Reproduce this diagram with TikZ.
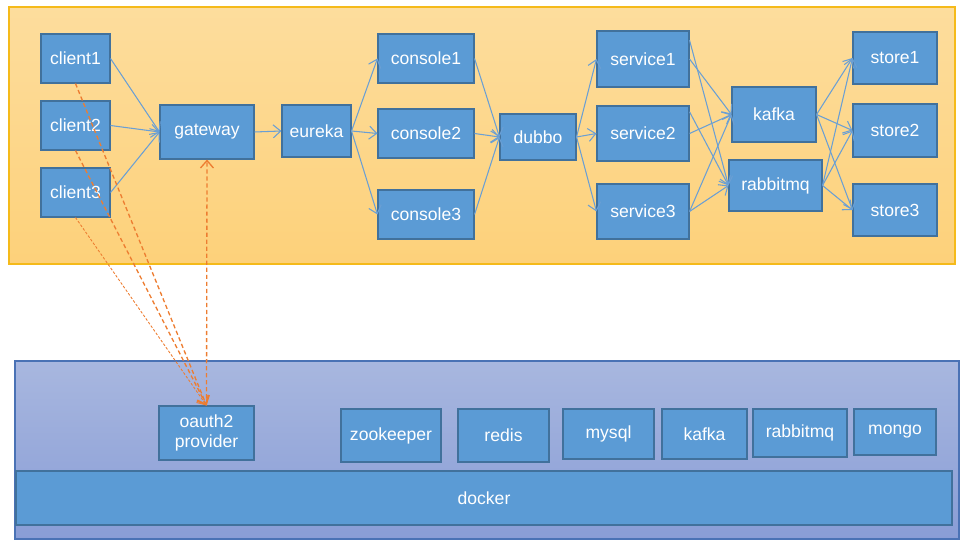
\documentclass[tikz,border=0pt]{standalone}
\usepackage{fontspec}
\setmainfont{Liberation Sans}
\usetikzlibrary{arrows.meta}
\definecolor{boxfill}{HTML}{5B9BD5}
\definecolor{boxline}{HTML}{41719C}
\definecolor{flowline}{HTML}{6A9FD4}
\definecolor{authline}{HTML}{ED7D31}
\definecolor{apptop}{HTML}{FDDD9D}
\definecolor{appbot}{HTML}{FDD17A}
\definecolor{appline}{HTML}{F5BA1A}
\definecolor{infratop}{HTML}{A8B7DF}
\definecolor{infrabot}{HTML}{899DD6}
\definecolor{infraline}{HTML}{4A72B5}
\tikzset{
  box/.style={draw=boxline, line width=0.6pt, fill=boxfill, text=white, inner sep=0pt,
    font=\fontsize{10}{11.3}\selectfont},
  sz/.style 2 args={minimum width=#1*0.02cm, minimum height=#2*0.02cm},
  flow/.style={draw=flowline, line width=0.6pt, -{Straight Barb[length=1.5mm,width=2.6mm]}},
  auth/.style={draw=authline, line width=0.75pt, dash pattern=on 2.4pt off 1.6pt,
    -{Straight Barb[length=1.5mm,width=2.6mm]}},
}
\begin{document}
\begin{tikzpicture}[x=0.02cm, y=-0.02cm]
  \useasboundingbox (0,0) rectangle (960,540);
  % panels
  \draw[appline, line width=0.6pt, top color=apptop, bottom color=appbot] (9,7) rectangle (955,264);
  \draw[infraline, line width=0.6pt, top color=infratop, bottom color=infrabot] (15,361) rectangle (959,539);

  % application layer
  \node[box, sz={69}{49}] (client1) at (75.5,58.5) {client1};
  \node[box, sz={69}{49}] (client2) at (75.5,125.5) {client2};
  \node[box, sz={69}{49}] (client3) at (75.5,192.5) {client3};
  \node[box, sz={94}{54}] (gateway) at (207,132) {gateway};
  \node[box, sz={69}{52}] (eureka) at (316.5,131) {eureka};
  \node[box, sz={96}{49}] (console1) at (426,58.5) {console1};
  \node[box, sz={96}{49}] (console2) at (426,133.5) {console2};
  \node[box, sz={96}{49}] (console3) at (426,214.5) {console3};
  \node[box, sz={76}{46}] (dubbo) at (538,137) {dubbo};
  \node[box, sz={92}{56}] (service1) at (643,59) {service1};
  \node[box, sz={92}{55}] (service2) at (643,133.5) {service2};
  \node[box, sz={92}{55}] (service3) at (643,211.5) {service3};
  \node[box, sz={84}{55}] (kafka) at (774,114.5) {kafka};
  \node[box, sz={93}{51}] (rabbitmq) at (775.5,185.5) {rabbitmq};
  \node[box, sz={84}{52}] (store1) at (895,58) {store1};
  \node[box, sz={84}{53}] (store2) at (895,130.5) {store2};
  \node[box, sz={84}{52}] (store3) at (895,210) {store3};

  % infrastructure layer
  \node[box, sz={95}{54}, align=center] (oauth) at (206.5,433) {oauth2\\provider};
  \node[box, sz={100}{53}] (zookeeper) at (391,435.5) {zookeeper};
  \node[box, sz={91}{53}] (redis) at (503.5,435.5) {redis};
  \node[box, sz={91}{50}] (mysql) at (608.5,434) {mysql};
  \node[box, sz={85}{50}] (kafkabox) at (704.5,434) {kafka};
  \node[box, sz={94}{48}] (rabbitbox) at (800,433) {rabbitmq};
  \node[box, sz={82}{46}] (mongo) at (895,432) {mongo};
  \node[box, sz={936}{54}] (docker) at (484,498) {docker};

  % request flow
  \foreach \c in {client1,client2,client3}
    \draw[flow] (\c.east) -- (gateway.west);
  \draw[flow] (gateway.east) -- (eureka.west);
  \foreach \c in {console1,console2,console3} {
    \draw[flow] (eureka.east) -- (\c.west);
    \draw[flow] (\c.east) -- (dubbo.west);
  }
  \foreach \s in {service1,service2,service3}
    \draw[flow] (dubbo.east) -- (\s.west);
  \draw[flow] (service1.east) -- (kafka.west);
  \draw[flow] (service1.22) -- (rabbitmq.west);
  \draw[flow] (service2.east) -- (kafka.west);
  \draw[flow] (service2.25) -- (rabbitmq.west);
  \draw[flow] (service3.east) -- (kafka.west);
  \draw[flow] (service3.east) -- (rabbitmq.west);
  \foreach \t in {store1,store2,store3} {
    \draw[flow] (kafka.east) -- (\t.west);
    \draw[flow] (rabbitmq.east) -- (\t.west);
  }

  % authentication
  \draw[auth] (client1.south) -- (oauth.north);
  \draw[auth] (client2.south) -- (oauth.north);
  \draw[auth, line width=0.5pt, dash pattern=on 1.5pt off 1pt] (client3.south) -- (oauth.north);
  \draw[auth] (oauth.north) -- (gateway.south);
\end{tikzpicture}
\end{document}
